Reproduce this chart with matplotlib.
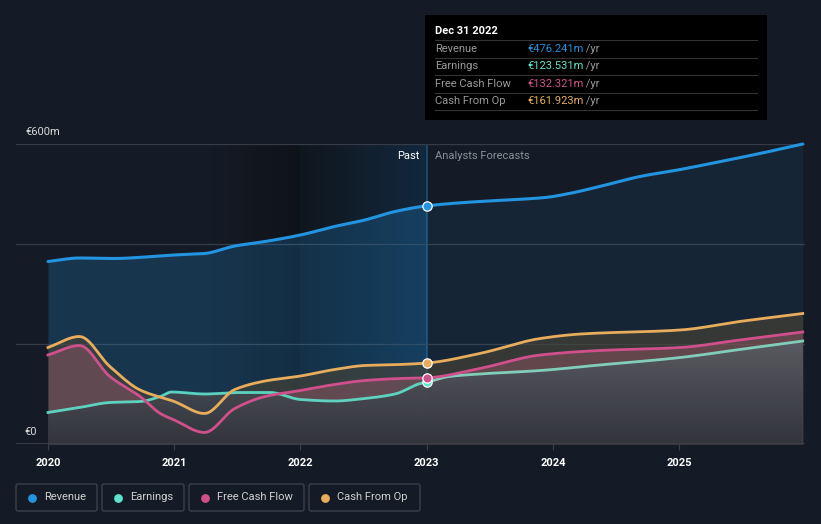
import numpy as np
import matplotlib.pyplot as plt
from matplotlib.colors import LinearSegmentedColormap
from matplotlib.patches import FancyBboxPatch

# Values (€m), x in fractional years
rev_x = [2020.0, 2020.25, 2020.53, 2020.77, 2021.0, 2021.24, 2021.48, 2021.72, 2022.0,
         2022.27, 2022.51, 2022.75, 2023.0, 2023.42, 2023.64, 2023.94, 2024.13, 2024.37,
         2024.69, 2025.01, 2025.33, 2025.64, 2025.98]
rev_y = [365, 372, 371, 374, 378, 381, 396, 405, 418, 435, 448, 465, 476.241, 485, 488,
         493, 501, 515, 535, 549, 565, 581, 600]

earn_x = [2020.0, 2020.25, 2020.49, 2020.73, 2020.89, 2020.98, 2021.24, 2021.52, 2021.76,
          2022.0, 2022.27, 2022.51, 2022.75, 2022.95, 2023.0, 2023.18, 2023.42, 2023.9,
          2024.37, 2025.01, 2025.48, 2025.98]
earn_y = [63, 73, 83, 85, 95, 104, 100, 103, 103, 89, 86, 91, 100, 121, 123.531, 135, 140,
          147, 158, 173, 189, 206]

fcf_x = [2020.0, 2020.25, 2020.49, 2020.73, 2020.89, 2021.0, 2021.24, 2021.48, 2021.72,
         2022.0, 2022.27, 2022.51, 2022.79, 2023.0, 2023.42, 2023.9, 2024.37, 2025.01,
         2025.48, 2025.98]
fcf_y = [178, 197, 135, 95, 61, 48, 23, 71, 95, 107, 119, 127, 131, 132.321, 151, 178, 187,
         193, 208, 224]

cfo_x = [2020.0, 2020.25, 2020.49, 2020.73, 2021.0, 2021.24, 2021.48, 2021.72, 2022.0,
         2022.27, 2022.51, 2022.79, 2023.0, 2023.42, 2023.9, 2024.22, 2025.01, 2025.48,
         2025.98]
cfo_y = [193, 215, 155, 108, 85, 61, 109, 126, 136, 149, 157, 159, 161.923, 181, 211, 220,
         228, 245, 261]

years = [2020, 2021, 2022, 2023, 2024, 2025]
series = ['Revenue', 'Earnings', 'Free Cash Flow', 'Cash From Op']
values = ['€476.241m', '€123.531m', '€132.321m', '€161.923m']
colors = ['#2394df', '#5fe3cc', '#d0508c', '#e8ad5c']

BG = '#151b26'
W, H = 821, 524
plt.rcParams['font.family'] = ['Roboto', 'DejaVu Sans']
fig = plt.figure(figsize=(W / 100, H / 100), dpi=100, facecolor=BG)


def px(x0, y0, x1, y1):
    return [x0 / W, 1 - y1 / H, (x1 - x0) / W, (y1 - y0) / H]


def smooth(xs, ys, n=12):
    # monotone cubic (Fritsch-Carlson) drawn through the read points
    x = np.asarray(xs, float); y = np.asarray(ys, float)
    h = np.diff(x); d = np.diff(y) / h
    m = np.zeros_like(y)
    m[0], m[-1] = d[0], d[-1]
    for i in range(1, len(x) - 1):
        if d[i - 1] * d[i] > 0:
            w1 = 2 * h[i] + h[i - 1]; w2 = h[i] + 2 * h[i - 1]
            m[i] = (w1 + w2) / (w1 / d[i - 1] + w2 / d[i])
    ox, oy = [], []
    for i in range(len(x) - 1):
        t = np.linspace(0, 1, n, endpoint=False)
        h00 = 2 * t**3 - 3 * t**2 + 1; h10 = t**3 - 2 * t**2 + t
        h01 = -2 * t**3 + 3 * t**2; h11 = t**3 - t**2
        ox.append(x[i] + t * h[i])
        oy.append(h00 * y[i] + h10 * h[i] * m[i] + h01 * y[i + 1] + h11 * h[i] * m[i + 1])
    ox.append([x[-1]]); oy.append([y[-1]])
    return np.concatenate(ox), np.concatenate(oy)


ax = fig.add_axes(px(16, 144, 805, 444))
ax.set_facecolor(BG)
ax.set_xlim(2020 - 32 / 126.2, 2025.998)
ax.set_ylim(0, 600)
for s in ax.spines.values():
    s.set_visible(False)

# background shading of the past region
grad = np.linspace(0, 1, 200).reshape(1, -1)
ax.imshow(grad, extent=[2021.3, 2022.0, 0, 600], aspect='auto',
          cmap=LinearSegmentedColormap.from_list('d', [BG, '#0f1218']), zorder=0)
ax.imshow(grad, extent=[2022.0, 2023.0, 0, 600], aspect='auto',
          cmap=LinearSegmentedColormap.from_list('b', ['#10161e', '#13283d']), zorder=0)
ax.axvline(2023.0, color='#1f4f73', lw=1.2, zorder=1)

for yv in [200, 400, 600]:
    ax.axhline(yv, color='#353c47', lw=0.9, zorder=1)
ax.axhline(0, color='#3a414c', lw=1.2, zorder=6)

rx, ry = smooth(rev_x, rev_y)
ex, ey = smooth(earn_x, earn_y)
fx, fy = smooth(fcf_x, fcf_y)
cx, cy = smooth(cfo_x, cfo_y)

# fills
ax.fill_between(rx[rx <= 2023], ry[rx <= 2023], 0, color='#2394df', alpha=0.22, lw=0, zorder=2)
ax.fill_between(rx[rx >= 2023], ry[rx >= 2023], 0, color='#2394df', alpha=0.09, lw=0, zorder=2)
ax.fill_between(cx, cy, 0, color='#4a4535', alpha=0.6, lw=0, zorder=3)
ax.fill_between(fx, fy, 0, color='#a05a6a', alpha=0.42, lw=0, zorder=3)
poly = ax.fill_between(ex, ey, 0, color='none', lw=0, zorder=3)
vg = np.linspace(1, 0, 200).reshape(-1, 1)
img = ax.imshow(vg, extent=[2020, 2026, 0, 210], aspect='auto', alpha=0.92,
                cmap=LinearSegmentedColormap.from_list('g', ['#2f333b', '#5a5d64']), zorder=3)
img.set_clip_path(poly.get_paths()[0], transform=ax.transData)
ax.set_xlim(2020 - 32 / 126.2, 2025.998)
ax.set_ylim(0, 600)

# lines
ax.plot(rx, ry, color=colors[0], lw=2.2, zorder=5, clip_on=False, solid_capstyle='round')
ax.plot(ex[ex <= 2023], ey[ex <= 2023], color=colors[1], lw=2.0, zorder=4.5, alpha=0.9)
ax.plot(ex[ex >= 2023], ey[ex >= 2023], color='#82cdb9', lw=2.0, zorder=5)
ax.plot(fx, fy, color=colors[2], lw=2.0, zorder=5)
ax.plot(cx, cy, color=colors[3], lw=2.0, zorder=5)

pts = [476.241, 123.531, 132.321, 161.923]
for c, v in zip(colors, pts):
    ax.scatter([2023.0], [v], s=45, color=c, edgecolor='white', lw=0.9, zorder=7, clip_on=False)

ax.set_xticks(years)
ax.set_xticklabels([str(y) for y in years], color='white', fontsize=8, fontweight='bold')
ax.tick_params(axis='x', length=4, color='#3a414c', pad=6)
ax.set_yticks([])

# axis labels and region labels
fig.text(25 / W, 1 - 132 / H, '€600m', color='#d8d8d8', fontsize=8, va='center')
fig.text(24 / W, 1 - 432 / H, '€0', color='#d8d8d8', fontsize=8, va='center')
fig.text(419 / W, 1 - 156 / H, 'Past', color='white', fontsize=8, va='center', ha='right')
fig.text(435 / W, 1 - 156 / H, 'Analysts Forecasts', color='#8a8f98', fontsize=8, va='center')

# tooltip
tip = fig.add_axes(px(425, 15, 767, 120))
tip.set_xlim(425, 767)
tip.set_ylim(120, 15)
tip.set_facecolor('black')
tip.set_xticks([]); tip.set_yticks([])
for s in tip.spines.values():
    s.set_visible(False)
tip.text(435, 31, 'Dec 31 2022', color='white', fontsize=8, fontweight='bold', va='center')
for i, (name, val, c) in enumerate(zip(series, values, colors)):
    yy = 49 + i * 17.4
    tip.axhline(yy - 8.5, xmin=10 / 342, xmax=332 / 342, color='#333', lw=0.8)
    tip.text(435, yy, name, color='#9a9a9a', fontsize=8, va='center')
    t = tip.text(527, yy, val, color=c, fontsize=8, va='center')
    tip.annotate(' /yr', xycoords=t, xy=(1, 0.5), va='center', color='#9a9a9a', fontsize=8)
tip.axhline(110, xmin=10 / 342, xmax=332 / 342, color='#333', lw=0.8)

# legend boxes
leg = fig.add_axes([0, 0, 1, 1], facecolor='none')
leg.set_xlim(0, W); leg.set_ylim(H, 0)
leg.axis('off')
boxes = [(16, 97), (102, 184), (189, 304), (309, 420)]
for (x0, x1), name, c in zip(boxes, series, colors):
    leg.add_patch(FancyBboxPatch((x0, 484), x1 - x0, 27, boxstyle='round,pad=0,rounding_size=2',
                                 fc='none', ec='#3b414b', lw=1))
    leg.scatter([x0 + 16], [497.5], s=28, color=c)
    leg.text(x0 + 28, 497.5, name, color='#d0d0d0', fontsize=8, va='center')

fig.savefig('out.png', dpi=100, facecolor=BG)
